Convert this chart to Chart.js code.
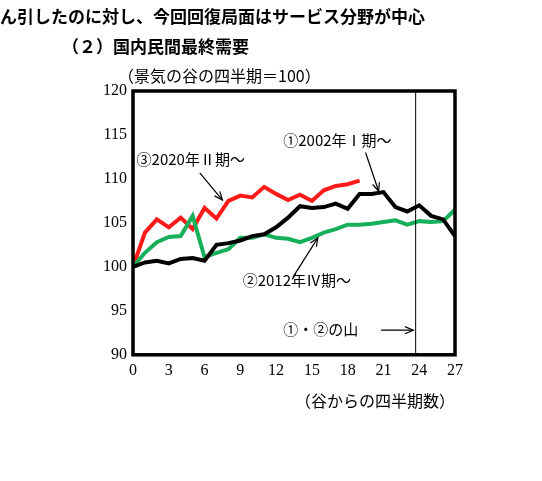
<!DOCTYPE html><html><head><meta charset="utf-8">
<script src="https://cdn.jsdelivr.net/npm/chart.js@4"></script>
<style>body{margin:0;background:#fff}</style></head><body>
<canvas id="c" width="542" height="481"></canvas>
<script>
const quarters=[...Array(28).keys()];
const s2002=[100,100.5,100.7,100.4,100.9,101.0,100.7,102.5,102.7,103.0,103.5,103.7,104.5,105.6,106.9,106.7,106.8,107.2,106.6,108.3,108.3,108.5,106.8,106.3,107.0,105.8,105.4,103.5];
const s2012=[100,101.6,102.8,103.4,103.5,105.8,101.1,101.6,102.0,103.3,103.3,103.7,103.3,103.2,102.8,103.3,103.9,104.3,104.8,104.8,104.9,105.1,105.3,104.8,105.2,105.1,105.2,106.5];
const s2020=[100,103.9,105.4,104.5,105.6,104.3,106.7,105.5,107.5,108.1,107.9,109.1,108.3,107.6,108.2,107.5,108.7,109.2,109.4,109.8];
const peakQ=23.7;
const serif="'Liberation Serif','Noto Sans CJK JP',serif";
const pts=a=>a.map((v,i)=>({x:i,y:v}));
const deco={id:'deco',afterDraw(ch){
 const c=ch.ctx,a=ch.chartArea,X=ch.scales.x,Y=ch.scales.y;
 c.save();
 c.fillStyle='#000';c.textBaseline='alphabetic';
 c.font="bold 17px 'Noto Sans CJK JP'";c.textAlign='left';
 c.fillText('ん引したのに対し、今回回復局面はサービス分野が中心',0,23);
 c.fillText('（２）国内民間最終需要',62,53);
 c.font="16px 'Noto Sans CJK JP'";
 c.fillText('（景気の谷の四半期＝100）',118,82);
 c.textAlign='center';
 c.fillText('（谷からの四半期数）',375,407);
 c.lineWidth=1;c.strokeStyle='#000';
 c.beginPath();c.moveTo(X.getPixelForValue(peakQ),a.top);c.lineTo(X.getPixelForValue(peakQ),a.bottom);c.stroke();
 c.lineWidth=3.5;c.strokeRect(a.left,a.top,a.right-a.left,a.bottom-a.top);
 const arrow=(x1,y1,x2,y2)=>{c.lineWidth=1.2;c.beginPath();c.moveTo(x1,y1);c.lineTo(x2,y2);c.stroke();
  const ang=Math.atan2(y2-y1,x2-x1),h=9;c.beginPath();
  c.moveTo(x2-h*Math.cos(ang-0.4),y2-h*Math.sin(ang-0.4));c.lineTo(x2,y2);c.lineTo(x2-h*Math.cos(ang+0.4),y2-h*Math.sin(ang+0.4));c.stroke();};
 const px=v=>X.getPixelForValue(v),py=v=>Y.getPixelForValue(v);
 c.font="15px 'Noto Sans CJK JP'";c.textAlign='left';
 c.fillText('①2002年Ⅰ期～',px(12.6),py(113.8));
 arrow(px(19.5),py(113),px(20.6),py(108.6));
 c.fillText('③2020年Ⅱ期～',px(0.3),py(111.6));
 arrow(px(5.6),py(110.7),px(7.5),py(107.6));
 c.fillText('②2012年Ⅳ期～',px(9.2),py(97.8));
 arrow(px(13.4),py(98.8),px(15.5),py(103.3));
 c.fillText('①・②の山',px(12.6),py(92.3));
 arrow(px(20.8),py(92.8),px(23.5),py(92.8));
 c.restore();}};
new Chart(document.getElementById('c'),{type:'line',
 data:{datasets:[
  {data:pts(s2002),borderColor:'#000',borderWidth:4,pointRadius:0,tension:0},
  {data:pts(s2012),borderColor:'#17b05a',borderWidth:4,pointRadius:0,tension:0},
  {data:pts(s2020),borderColor:'#ff1a1a',borderWidth:4,pointRadius:0,tension:0}]},
 options:{responsive:false,animation:false,events:[],
  layout:{padding:{top:91,left:97,right:87,bottom:95}},
  plugins:{legend:{display:false},tooltip:{enabled:false}},
  scales:{
   x:{type:'linear',min:0,max:27,afterBuildTicks:s=>{s.ticks=[0,3,6,9,12,15,18,21,24,27].map(v=>({value:v}));},
      grid:{display:false,drawTicks:false},border:{display:false},
      ticks:{color:'#000',font:{family:serif,size:16},padding:6,maxRotation:0}},
   y:{min:90,max:120,ticks:{stepSize:5,color:'#000',font:{family:serif,size:16},padding:6},
      grid:{display:false,drawTicks:false},border:{display:false}}}},
 plugins:[deco]});
</script></body></html>
